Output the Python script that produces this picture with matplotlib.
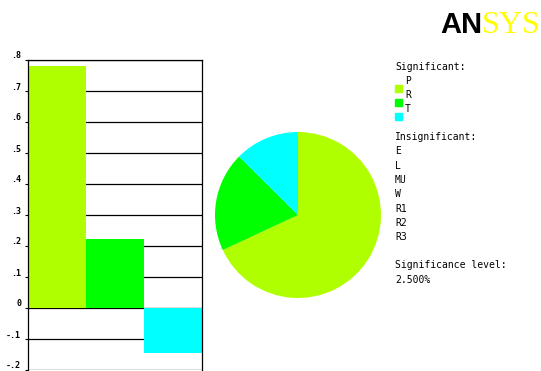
import matplotlib
matplotlib.use("Agg")
import matplotlib.pyplot as plt
from matplotlib.transforms import ScaledTranslation

# Effect estimates for the significant factors
categories = ["P", "R", "T"]
effects = [0.78, 0.222, -0.144]
colors = ["#b0ff00", "#00ff00", "#00ffff"]

insignificant = ["E", "L", "MU", "W", "R1", "R2", "R3"]
significance_level = "2.500%"

y_ticks = [-0.2, -0.1, 0.0, 0.1, 0.2, 0.3, 0.4, 0.5, 0.6, 0.7, 0.8]
y_tick_labels = ["-.2", "-.1", "0", ".1", ".2", ".3", ".4", ".5", ".6", ".7", ".8"]

W, H = 541, 371
fig = plt.figure(figsize=(W / 100, H / 100), dpi=100)
fig.patch.set_facecolor("white")


def box(x0, y0, x1, y1):
    """Pixel box (top-left origin) -> figure fraction rect."""
    return [x0 / W, 1 - y1 / H, (x1 - x0) / W, (y1 - y0) / H]


def fx(x):
    return x / W


def fy(y):
    return 1 - y / H


mono = "DejaVu Sans Mono"

# --- bar chart of effects ---
ax = fig.add_axes(box(28, 60, 202, 370))
x = range(len(categories))
ax.bar(x, effects, width=1.0, color=colors, zorder=2, linewidth=0)
for t in y_ticks:
    ax.axhline(t, color="black", linewidth=0.9, zorder=1)
ax.set_xlim(-0.5, len(categories) - 0.5)
ax.set_ylim(-0.2, 0.8)
ax.set_xticks([])
ax.set_yticks(y_ticks)
ax.set_yticklabels(y_tick_labels, fontfamily=mono, fontsize=6, fontweight="bold")
ax.tick_params(axis="y", length=2, width=0.8, pad=3)
offset = ScaledTranslation(0, 5 / 100, fig.dpi_scale_trans)
for lab in ax.get_yticklabels():
    lab.set_transform(lab.get_transform() + offset)
for side in ("left", "top", "right"):
    ax.spines[side].set_color("black")
    ax.spines[side].set_linewidth(0.9)
    ax.spines[side].set_zorder(3)
ax.spines["bottom"].set_visible(False)
ax.set_facecolor("white")

# --- pie of absolute effects ---
pax = fig.add_axes(box(215, 132, 381, 298))
pax.pie([abs(v) for v in effects], colors=colors, startangle=90,
        counterclock=False, radius=1.0, wedgeprops=dict(linewidth=0))
pax.set_xlim(-1, 1)
pax.set_ylim(-1, 1)
pax.set_aspect("equal")
pax.axis("off")

# --- legend / annotation column ---
tx = 395
fs = 7
fig.text(fx(tx), fy(67), "Significant:", fontfamily=mono, fontsize=fs, va="center")
for i, (name, c) in enumerate(zip(categories, colors)):
    sq_top = 85 + i * 14
    fig.patches.append(plt.Rectangle((fx(tx), fy(sq_top + 7)), 7 / W, 7 / H,
                                     transform=fig.transFigure, color=c, figure=fig))
    fig.text(fx(tx + 10), fy(81 + i * 14), name, fontfamily=mono, fontsize=fs, va="center")

fig.text(fx(tx), fy(137), "Insignificant:", fontfamily=mono, fontsize=fs, va="center")
for i, name in enumerate(insignificant):
    fig.text(fx(tx), fy(151.5 + i * 14.3), name, fontfamily=mono, fontsize=fs, va="center")

fig.text(fx(tx), fy(265), "Significance level:", fontfamily=mono, fontsize=fs, va="center")
fig.text(fx(tx), fy(280), significance_level, fontfamily=mono, fontsize=fs, va="center")

# --- logo ---
fig.text(fx(440), fy(33), "AN", fontfamily="Liberation Sans", fontweight="bold",
         fontsize=21, color="black", va="baseline", ha="left")
fig.text(fx(482), fy(33), "SYS", fontfamily="Liberation Serif",
         fontsize=23, color="#ffff00", va="baseline", ha="left")

fig.savefig("out.png", dpi=100, facecolor="white")
